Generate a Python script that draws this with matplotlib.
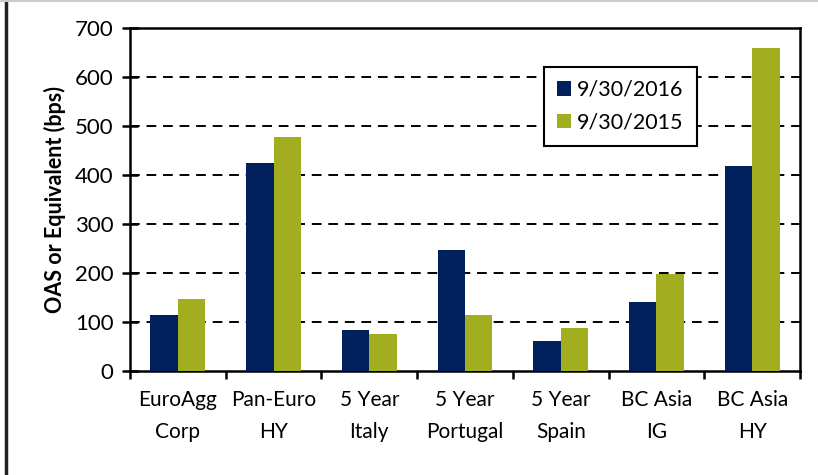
import numpy as np
import matplotlib
matplotlib.use('Agg')
import matplotlib.pyplot as plt
from matplotlib.lines import Line2D

# Data
categories = ['EuroAgg\nCorp', 'Pan-Euro\nHY', '5 Year\nItaly', '5 Year\nPortugal',
              '5 Year\nSpain', 'BC Asia\nIG', 'BC Asia\nHY']
oas_2016 = [115, 424, 83, 246, 61, 140, 419]
oas_2015 = [147, 477, 75, 114, 88, 197, 660]
series_labels = ['9/30/2016', '9/30/2015']
y_ticks = [0, 100, 200, 300, 400, 500, 600, 700]

NAVY = '#00215B'
GREEN = '#A2AD1F'

plt.rcParams['font.family'] = ['Lato', 'DejaVu Sans']

fig = plt.figure(figsize=(8.18, 4.75), dpi=100)
ax = fig.add_axes([130 / 818, 1 - 371 / 475, 670 / 818, 343 / 475])

x = np.arange(len(categories))
width = 0.287

ax.bar(x - width / 2, oas_2016, width, color=NAVY, label=series_labels[0], zorder=3)
ax.bar(x + width / 2, oas_2015, width, color=GREEN, label=series_labels[1], zorder=3)

ax.set_xlim(-0.5, len(categories) - 0.5)
ax.set_ylim(0, 700)

# gridlines
ax.set_yticks(y_ticks)
ax.set_yticklabels([str(v) for v in y_ticks], fontsize=16)
for v in y_ticks[1:-1]:
    ax.axhline(v, color='black', lw=1.4, ls=(0, (5, 3.5)), zorder=1)

# category boundaries as major ticks, labels on minor ticks
ax.set_xticks(np.arange(-0.5, len(categories), 1.0))
ax.set_xticklabels([])
ax.set_xticks(x, minor=True)
ax.set_xticklabels(categories, minor=True, fontsize=15, linespacing=1.75)
ax.tick_params(axis='x', which='minor', length=0, pad=14)
ax.tick_params(axis='x', which='major', direction='out', length=6, width=1.8)
ax.tick_params(axis='y', direction='inout', length=12, width=1.8, pad=6)

for s in ax.spines.values():
    s.set_linewidth(1.8)
    s.set_color('black')

ax.set_ylabel('OAS or Equivalent (bps)', fontsize=15.5, fontweight='bold', labelpad=6)

leg = ax.legend(loc='upper left', bbox_to_anchor=((544 - 130) / 670, (371 - 67) / 343),
                fontsize=15.5, handlelength=0.65, handleheight=0.65, handletextpad=0.3,
                labelspacing=0.6, borderpad=0.6, fancybox=False, framealpha=1,
                borderaxespad=0)
leg.get_frame().set_edgecolor('black')
leg.get_frame().set_linewidth(1.5)

# outer frame pieces
fig.add_artist(Line2D([5.5 / 818, 5.5 / 818], [0, 1], color='#222222', lw=2.5))
fig.add_artist(Line2D([0, 1], [1 - 0.5 / 475, 1 - 0.5 / 475], color='#cccccc', lw=1.5))

fig.savefig('out.png', dpi=100)
